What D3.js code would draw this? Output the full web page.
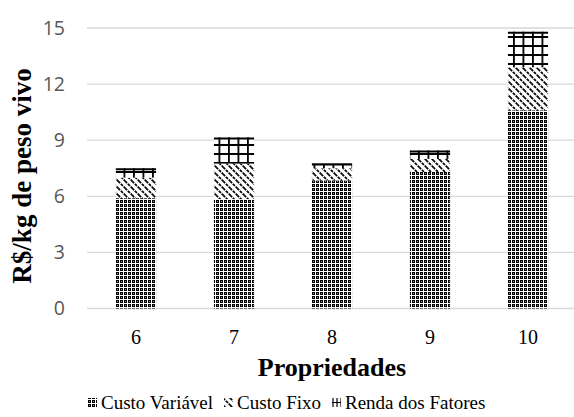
<!DOCTYPE html>
<html>
<head>
<meta charset="utf-8">
<script src="https://cdn.jsdelivr.net/npm/d3@7/dist/d3.min.js"></script>
<style>
  html, body { margin: 0; padding: 0; background: #fff; }
  svg { display: block; }
  .serif { font-family: "Liberation Serif", "DejaVu Serif", serif; }
  .sans { font-family: "Open Sans", sans-serif; }
</style>
</head>
<body>
<svg id="chart" width="574" height="417"></svg>
<script>
// Production cost per kg of live weight, by property
const categories = ["6", "7", "8", "9", "10"];
const custoVariavel = [5.9, 5.85, 6.85, 7.3, 10.6];
const custoFixo = [1.1, 1.9, 0.65, 0.7, 2.3];
const rendaFatores = [0.5, 1.4, 0.25, 0.45, 1.9];
const seriesNames = ["Custo Variável", "Custo Fixo", "Renda dos Fatores"];
const yTicks = [0, 3, 6, 9, 12, 15];

const svg = d3.select("#chart");
const W = 574, H = 417;
const margin = { left: 87, right: -3, top: 28, bottom: 109 };

// Hatch patterns used as bar fills
const defs = svg.append("defs");

const pVar = defs.append("pattern").attr("id", "pVar")
  .attr("patternUnits", "userSpaceOnUse").attr("width", 4).attr("height", 4);
pVar.append("rect").attr("width", 4).attr("height", 4).attr("fill", "#000");
pVar.append("rect").attr("x", 3).attr("y", 0).attr("width", 1).attr("height", 4).attr("fill", "#fff");
pVar.append("rect").attr("x", 0).attr("y", 3).attr("width", 4).attr("height", 1).attr("fill", "#fff");
pVar.append("rect").attr("x", 1).attr("y", 1).attr("width", 1).attr("height", 1).attr("fill", "#888");

const pFix = defs.append("pattern").attr("id", "pFix")
  .attr("patternUnits", "userSpaceOnUse").attr("width", 7).attr("height", 7);
pFix.append("rect").attr("width", 7).attr("height", 7).attr("fill", "#fff");
pFix.append("path").attr("d", "M-1,-1 L8,8 M-1,6 L1,8 M6,-1 L8,1")
  .attr("stroke", "#000").attr("stroke-width", 1.7).attr("stroke-dasharray", "3,1");

const pRen = defs.append("pattern").attr("id", "pRen")
  .attr("patternUnits", "userSpaceOnUse").attr("width", 9.5).attr("height", 9);
pRen.append("rect").attr("width", 9.5).attr("height", 9).attr("fill", "#fff");
pRen.append("path").attr("d", "M0.8,0 L0.8,9 M0,1 L9.5,1")
  .attr("stroke", "#000").attr("stroke-width", 2);

// Small grid used for the legend swatch of the third series
const pRenKey = defs.append("pattern").attr("id", "pRenKey")
  .attr("patternUnits", "userSpaceOnUse").attr("width", 4).attr("height", 5)
  .attr("x", 0).attr("y", 0);
pRenKey.append("rect").attr("width", 4).attr("height", 5).attr("fill", "#fff");
pRenKey.append("path").attr("d", "M1,0 L1,5 M0,2.5 L4,2.5")
  .attr("stroke", "#000").attr("stroke-width", 1.2);

const x = d3.scaleBand()
  .domain(categories)
  .range([margin.left, W - margin.right])
  .paddingInner(0.59)
  .paddingOuter(0.295);

const y = d3.scaleLinear()
  .domain([0, 15])
  .range([H - margin.bottom + 0.5, margin.top]);

// Horizontal gridlines
svg.append("g")
  .selectAll("line")
  .data(yTicks)
  .join("line")
  .attr("x1", margin.left)
  .attr("x2", W - margin.right)
  .attr("y1", d => y(d))
  .attr("y2", d => y(d))
  .attr("stroke", "#d9d9d9")
  .attr("stroke-width", 1.3);

// Y axis labels
const yAxis = d3.axisLeft(y).tickValues(yTicks).tickSize(0).tickPadding(0);
const gy = svg.append("g")
  .attr("transform", "translate(65,0)")
  .call(yAxis)
  .attr("font-family", null);
gy.select(".domain").remove();
gy.selectAll("text")
  .attr("class", "sans")
  .attr("font-size", 19.5)
  .attr("fill", "#595959");

// Stacked bars
const rows = categories.map((c, i) => ({
  cat: c,
  "Custo Variável": custoVariavel[i],
  "Custo Fixo": custoFixo[i],
  "Renda dos Fatores": rendaFatores[i]
}));
const stack = d3.stack().keys(seriesNames)(rows);
const fills = { "Custo Variável": "url(#pVar)", "Custo Fixo": "url(#pFix)", "Renda dos Fatores": "url(#pRen)" };
const keyFills = { "Custo Variável": "url(#pVar)", "Custo Fixo": "url(#pFix)", "Renda dos Fatores": "url(#pRenKey)" };

const layers = svg.append("g")
  .selectAll("g")
  .data(stack)
  .join("g")
  .attr("fill", d => fills[d.key]);

layers.selectAll("rect")
  .data(d => d)
  .join("rect")
  .attr("x", d => x(d.data.cat))
  .attr("width", x.bandwidth())
  .attr("y", d => y(d[1]))
  .attr("height", d => y(d[0]) - y(d[1]));

// Top edge of the uppermost segment
const topLayer = stack[stack.length - 1];
svg.append("g")
  .selectAll("line")
  .data(topLayer)
  .join("line")
  .attr("x1", d => x(d.data.cat))
  .attr("x2", d => x(d.data.cat) + x.bandwidth())
  .attr("y1", d => y(d[1]) + 1)
  .attr("y2", d => y(d[1]) + 1)
  .attr("stroke", "#000")
  .attr("stroke-width", 2);

// X axis labels
const xAxis = d3.axisBottom(x).tickSize(0).tickPadding(0);
const gx = svg.append("g")
  .attr("transform", "translate(0,330)")
  .call(xAxis)
  .attr("font-family", null);
gx.select(".domain").remove();
gx.selectAll("text")
  .attr("class", "serif")
  .attr("font-size", 20)
  .attr("fill", "#000");

// Axis titles
svg.append("text")
  .attr("class", "serif")
  .attr("x", (margin.left + 577) / 2)
  .attr("y", 376)
  .attr("text-anchor", "middle")
  .attr("font-weight", "bold")
  .attr("font-size", 26)
  .text("Propriedades");

svg.append("text")
  .attr("class", "serif")
  .attr("transform", "translate(31,176) rotate(-90)")
  .attr("text-anchor", "middle")
  .attr("font-weight", "bold")
  .attr("font-size", 27)
  .text("R$/kg de peso vivo");

// Legend: swatch + label, laid out left to right and centred
const legendItems = seriesNames.map(n => ({ name: n, fill: keyFills[n] }));
const lg = svg.append("g");
const li = lg.selectAll("g").data(legendItems).join("g");
li.append("rect")
  .attr("x", 0).attr("y", 398).attr("width", 9).attr("height", 9)
  .attr("fill", d => d.fill);
li.append("text")
  .attr("class", "serif")
  .attr("x", 13)
  .attr("y", 409)
  .attr("font-size", 19)
  .attr("fill", "#000")
  .text(d => d.name);
let cursor = 0;
li.each(function () {
  const g = d3.select(this);
  g.attr("transform", `translate(${cursor},0)`);
  cursor += 13 + g.select("text").node().getComputedTextLength() + 11;
});
const totalW = cursor - 11;
lg.attr("transform", `translate(${Math.round((W - totalW) / 2)},0)`);
</script>
</body>
</html>
